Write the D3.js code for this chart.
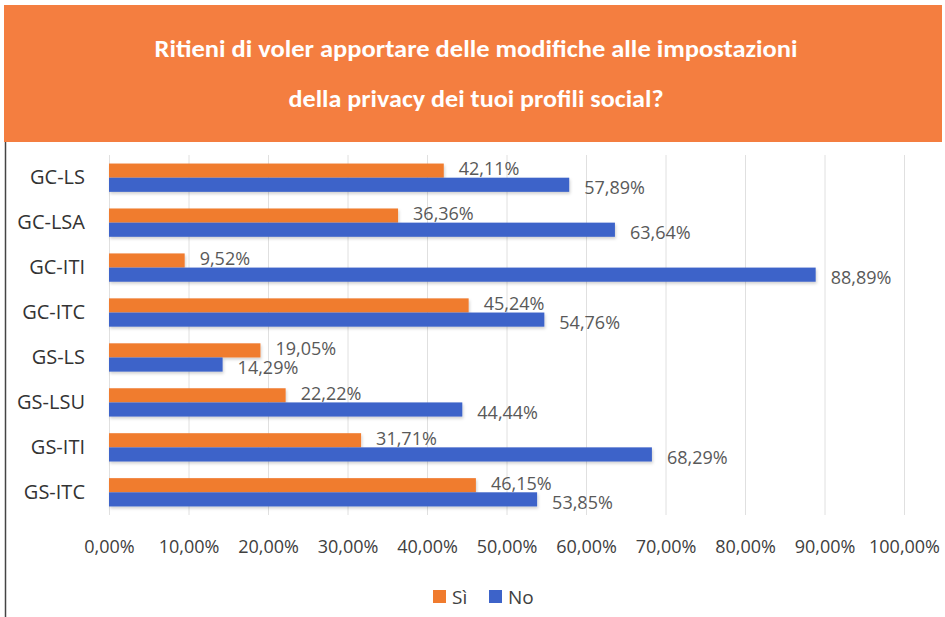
<!DOCTYPE html>
<html lang="it">
<head>
<meta charset="UTF-8">
<title>Privacy profili social</title>
<script src="https://d3js.org/d3.v7.min.js"></script>
<style>
  body { margin: 0; background: #fff; }
  svg { display: block; }
</style>
</head>
<body>
<svg width="945" height="617"></svg>
<script>
// data
const categories = ["GC-LS", "GC-LSA", "GC-ITI", "GC-ITC", "GS-LS", "GS-LSU", "GS-ITI", "GS-ITC"];
const siValues = [42.11, 36.36, 9.52, 45.24, 19.05, 22.22, 31.71, 46.15];
const noValues = [57.89, 63.64, 88.89, 54.76, 14.29, 44.44, 68.29, 53.85];
const seriesNames = ["Sì", "No"];
const titleLines = ["Ritieni di voler apportare delle modifiche alle impostazioni",
                    "della privacy dei tuoi profili social?"];
const xTicks = [0, 10, 20, 30, 40, 50, 60, 70, 80, 90, 100];

const colors = { "Sì": "#F07B2E", "No": "#3D63C9" };
const svg = d3.select("svg");
const fmt = v => v.toFixed(2).replace(".", ",") + "%";

// banner
svg.append("rect").attr("x", 4).attr("y", 5).attr("width", 938).attr("height", 137)
  .attr("fill", "#F47E40");
svg.selectAll(".title").data(titleLines).enter().append("text")
  .attr("x", 476).attr("y", (d, i) => 57 + i * 50)
  .attr("text-anchor", "middle")
  .attr("fill", "#fff").attr("font-weight", "bold")
  .attr("font-family", "Carlito, 'Liberation Sans Narrow', Lato, sans-serif")
  .attr("font-size", 25)
  .attr("textLength", (d, i) => i === 0 ? 643 : 375)
  .attr("lengthAdjust", "spacingAndGlyphs")
  .text(d => d);

// left border of the frame
svg.append("line").attr("x1", 5.5).attr("x2", 5.5).attr("y1", 142).attr("y2", 617)
  .attr("stroke", "#444").attr("stroke-width", 1.5);

// soft shadow under the bars
const defs = svg.append("defs");
const f = defs.append("filter").attr("id", "shadow").attr("x", "-5%").attr("y", "-30%").attr("width", "110%").attr("height", "170%");
f.append("feDropShadow").attr("dx", 1).attr("dy", 2).attr("stdDeviation", 1.5)
  .attr("flood-color", "#000").attr("flood-opacity", 0.18);

// scales
const x = d3.scaleLinear().domain([0, 100]).range([109, 904]);
const y = d3.scaleBand().domain(categories).range([155, 515]).paddingInner(0.37).paddingOuter(0.19);
const ySub = d3.scaleBand().domain(seriesNames).range([0, y.bandwidth()]);

// gridlines
svg.append("g").selectAll("line").data(xTicks).enter().append("line")
  .attr("x1", d => x(d) + 0.5).attr("x2", d => x(d) + 0.5)
  .attr("y1", 155).attr("y2", 515)
  .attr("stroke", "#e0e0e0").attr("stroke-width", 1);

// x axis labels
const xAxis = d3.axisBottom(x).tickValues(xTicks).tickFormat(d => d.toFixed(2).replace(".", ",") + "%").tickSize(0).tickPadding(0);
const gx = svg.append("g").attr("transform", "translate(0,540)").call(xAxis);
gx.select(".domain").remove();
gx.selectAll("text").attr("font-family", "'Open Sans', sans-serif").attr("font-size", 18).attr("fill", "#404040");

// y axis labels
const yAxis = d3.axisLeft(y).tickSize(0).tickPadding(24);
const gy = svg.append("g").attr("transform", "translate(109,0)").call(yAxis);
gy.select(".domain").remove();
gy.selectAll("text").attr("font-family", "'Open Sans', sans-serif").attr("font-size", 20).attr("fill", "#333");

const rows = categories.map((c, i) => ({ cat: c, values: [
  { s: "Sì", v: siValues[i] }, { s: "No", v: noValues[i] }] }));

const groups = svg.append("g").selectAll("g").data(rows).enter().append("g")
  .attr("transform", d => `translate(0,${y(d.cat)})`);

groups.selectAll("rect").data(d => d.values).enter().append("rect")
  .attr("x", x(0))
  .attr("y", d => ySub(d.s))
  .attr("width", d => x(d.v) - x(0))
  .attr("height", ySub.bandwidth())
  .attr("fill", d => colors[d.s])
  .attr("filter", "url(#shadow)");

groups.selectAll("text").data(d => d.values).enter().append("text")
  .attr("x", d => x(d.v) + 15)
  .attr("y", d => ySub(d.s) + ySub.bandwidth() / 2 + (d.s === "Sì" ? -2 : 3))
  .attr("dy", "0.35em")
  .attr("font-family", "'Open Sans', sans-serif").attr("font-size", 18)
  .attr("fill", "#595959")
  .text(d => fmt(d.v));

// legend
const legend = svg.append("g").attr("transform", "translate(433,597)");
const li = legend.selectAll("g").data(seriesNames).enter().append("g")
  .attr("transform", (d, i) => `translate(${i * 56},0)`);
li.append("rect").attr("x", 0).attr("y", -7).attr("width", 13).attr("height", 13)
  .attr("fill", d => colors[d]);
li.append("text").attr("x", 19).attr("dy", "0.35em")
  .attr("font-family", "'Open Sans', sans-serif").attr("font-size", 19).attr("fill", "#404040")
  .text(d => d);
</script>
</body>
</html>
